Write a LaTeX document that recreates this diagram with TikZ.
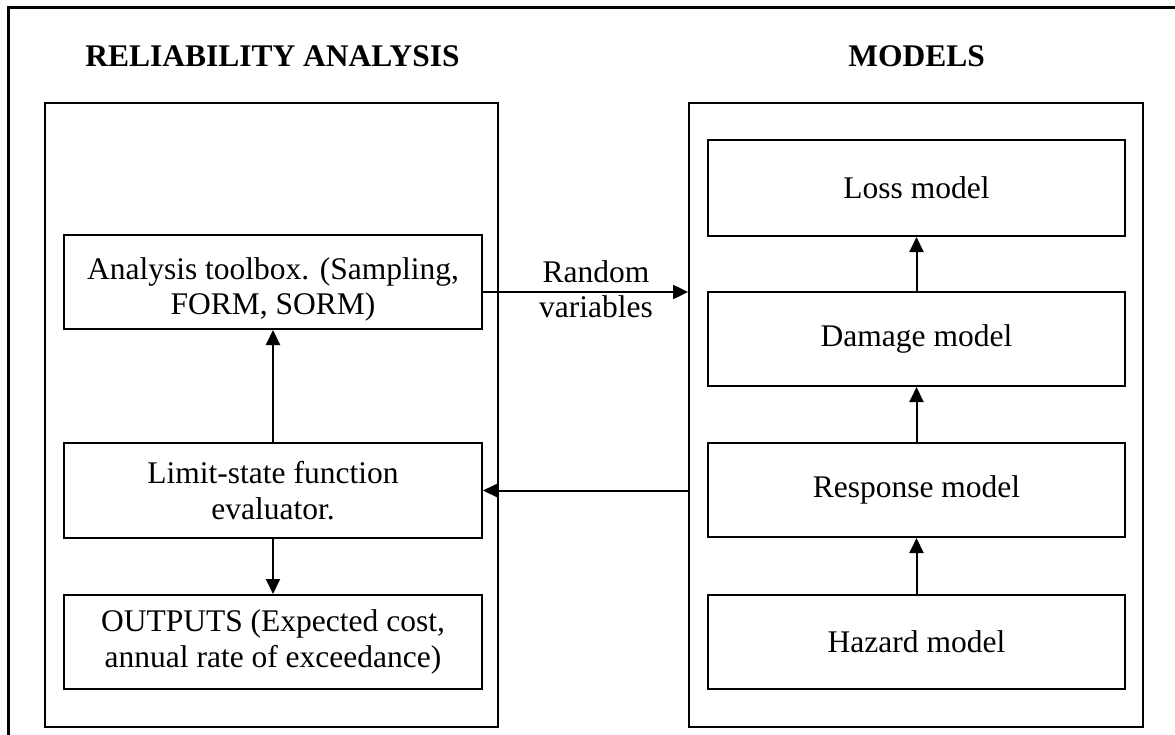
\documentclass[tikz,border=0pt]{standalone}
\usepackage{fontspec}
\setmainfont{Liberation Serif}
\usetikzlibrary{arrows.meta}

\tikzset{
  frameline/.style={line width=3.5pt},
  groupbox/.style={draw, line width=1.8pt, inner sep=0pt},
  box/.style={draw, line width=2pt, inner sep=0pt, align=center,
    font=\fontsize{31.5}{35.5}\selectfont},
  heading/.style={anchor=base, font=\fontsize{31.5}{35.5}\selectfont\bfseries},
  flow/.style={line width=2pt, -{Triangle[length=15pt,width=14pt]}},
  flowlabel/.style={align=center, inner sep=0pt, font=\fontsize{31.5}{35.5}\selectfont}
}

\begin{document}
\begin{tikzpicture}[x=1pt, y=-1pt]
  \useasboundingbox (0,0) rectangle (1175,734);
  \clip (0,0) rectangle (1175,734);

  % outer frame (runs off the page to the right and bottom)
  \draw[frameline] (8.5,760) -- (8.5,7.5) -- (1200,7.5);

  % headings
  \node[heading] (hrel) at (272.5,66.7) {RELIABILITY ANALYSIS};
  \node[heading] (hmod) at (916.7,66.7) {MODELS};

  % group boxes
  \node[groupbox, minimum width=453, minimum height=624] (lgrp) at (271.5,415) {};
  \node[groupbox, minimum width=454, minimum height=624] (rgrp) at (916,415) {};

  % reliability analysis side
  \node[box, minimum width=418, minimum height=94] (ana) at (273,282)
    {\raisebox{-8pt}[\height][\depth]{\begin{tabular}{@{}c@{}}Analysis toolbox. (Sampling,\\FORM, SORM)\end{tabular}}};
  \node[box, minimum width=418, minimum height=95] (lim) at (273,490.5)
    {Limit-state function\\evaluator.};
  \node[box, minimum width=418, minimum height=94] (out) at (273,642)
    {OUTPUTS (Expected cost,\\annual rate of exceedance)};

  % models side
  \node[box, minimum width=417, minimum height=96] (loss) at (916.5,188) {Loss model};
  \node[box, minimum width=417, minimum height=94] (dam)  at (916.5,339) {Damage model};
  \node[box, minimum width=417, minimum height=94] (resp) at (916.5,490) {Response model};
  \node[box, minimum width=417, minimum height=94] (haz)  at (916.5,642) {Hazard model};

  % connectors
  \draw[flow] (lim.north) -- (ana.south);
  \draw[flow] (lim.south) -- (out.north);
  \draw[flow] (haz.north) -- (resp.south);
  \draw[flow] (resp.north) -- (dam.south);
  \draw[flow] (dam.north) -- (loss.south);
  \draw[flow] ([yshift=-10pt]ana.east) -- ([yshift=-10pt]ana.east -| rgrp.west);
  \draw[flow] (rgrp.west |- lim.east) -- (lim.east);

  \node[flowlabel] (rv) at (596,289) {Random\\variables};
\end{tikzpicture}
\end{document}
